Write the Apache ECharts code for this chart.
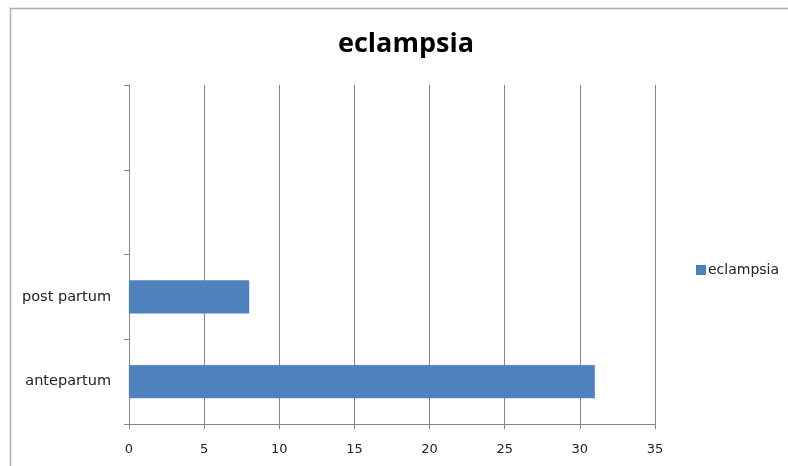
<!DOCTYPE html>
<html><head><meta charset="utf-8">
<script src="https://cdn.jsdelivr.net/npm/echarts@6/dist/echarts.min.js"></script>
<style>html,body{margin:0;padding:0;background:#fff}#c{width:788px;height:466px}</style>
</head><body><div id="c"></div>
<script>
const titleText = 'eclampsia';
const seriesName = 'eclampsia';
const categories = ['antepartum', 'post partum', '', ''];
const values = [31, 8, null, null];
const xTicks = { min: 0, max: 35, interval: 5 };

const chart = echarts.init(document.getElementById('c'));
const gray = '#868686';
chart.setOption({
  animation: false,
  backgroundColor: '#fff',
  graphic: [{
    type: 'rect', left: 8, top: 6, shape: { width: 800, height: 470 },
    style: { fill: 'none', stroke: '#adadad', lineWidth: 1.5 }, silent: true
  }],
  title: {
    text: titleText, left: 333, top: 26,
    textStyle: { fontFamily: 'Open Sans', fontWeight: 'bold', fontSize: 27, color: '#000' }
  },
  legend: {
    data: [seriesName], orient: 'vertical', left: 691, top: 258,
    itemWidth: 8, itemHeight: 8, itemGap: 4, icon: 'rect',
    textStyle: { fontFamily: 'DejaVu Sans', fontSize: 14, color: '#222', padding: [0, 0, 0, -2] }
  },
  grid: { left: 129, right: 133, top: 85, bottom: 42, containLabel: false },
  xAxis: {
    type: 'value', min: xTicks.min, max: xTicks.max, interval: xTicks.interval,
    axisLine: { show: true, lineStyle: { color: gray, width: 1 } },
    axisTick: { show: true, length: 5, lineStyle: { color: gray } },
    splitLine: { show: true, lineStyle: { color: gray, width: 1 } },
    axisLabel: { fontFamily: 'DejaVu Sans', fontSize: 13, color: '#222', margin: 19 }
  },
  yAxis: {
    type: 'category', data: categories,
    axisLine: { show: true, lineStyle: { color: gray, width: 1 } },
    axisTick: { show: true, length: 5, lineStyle: { color: gray } },
    axisLabel: { fontFamily: 'DejaVu Sans', fontSize: 14.5, color: '#222', margin: 18 }
  },
  series: [{
    name: seriesName, type: 'bar', data: values,
    barCategoryGap: '61%',
    itemStyle: { color: '#4f81bd', borderColor: '#4a7ebb', borderWidth: 0.5 }
  }]
});
</script></body></html>
